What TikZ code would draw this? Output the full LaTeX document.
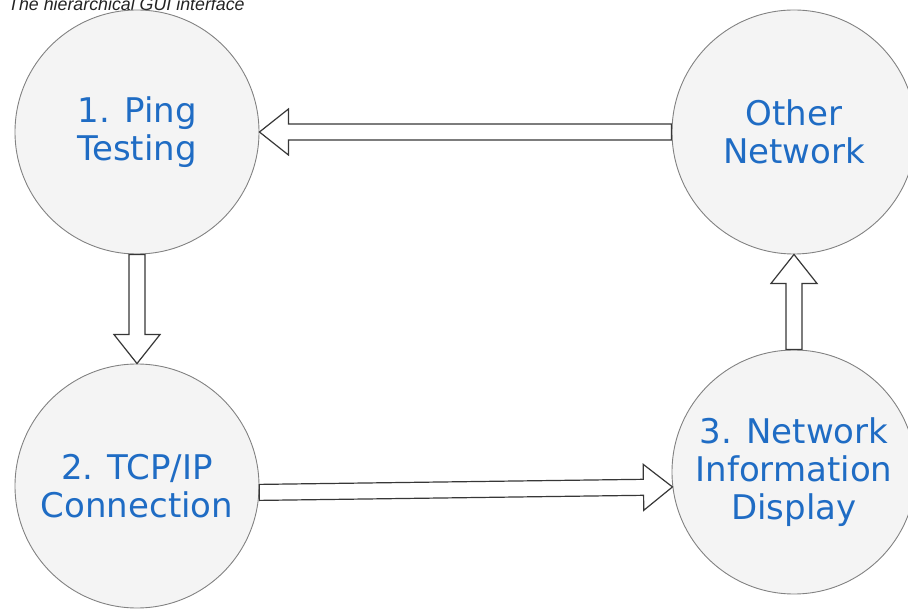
\documentclass[tikz,border=0pt]{standalone}
\usepackage{fontspec}
\setmainfont{DejaVu Sans}
\newfontfamily\titlefont{Liberation Sans}
\usetikzlibrary{calc,positioning}

\definecolor{stepblue}{RGB}{31,108,196}
\definecolor{circfill}{RGB}{244,244,244}
\definecolor{circline}{RGB}{130,130,130}
\definecolor{arrline}{RGB}{55,55,55}
\definecolor{titlegray}{RGB}{35,35,35}

% hollow block arrow from #1 to #2
\newcommand\hollowarrow[2]{%
  \coordinate (ha-s) at (#1);
  \coordinate (ha-e) at (#2);
  \coordinate (ha-n) at ($(ha-e)!29pt!(ha-s)$);
  \draw[blockarrow] ($(ha-s)!8pt!90:(ha-e)$) -- ($(ha-n)!8pt!-90:(ha-s)$)
    -- ($(ha-n)!23pt!-90:(ha-s)$) -- (ha-e) -- ($(ha-n)!23pt!90:(ha-s)$)
    -- ($(ha-n)!8pt!90:(ha-s)$) -- ($(ha-s)!8pt!-90:(ha-e)$) -- cycle;
}

\begin{document}
\begin{tikzpicture}[x=1pt, y=-1pt,
  stepnode/.style={circle, draw=circline, line width=0.9pt, fill=circfill,
    minimum size=244pt, inner sep=0pt, align=center, text=stepblue,
    font=\fontsize{34}{38}\selectfont},
  blockarrow/.style={draw=arrline, line width=1.2pt, fill=white, line join=miter}]

\useasboundingbox (0,0) rectangle (908,609);

% Title (cut at the top edge)
\node[anchor=base west, inner sep=0pt, text=titlegray,
  font=\titlefont\itshape\fontsize{17.8}{20}\selectfont] (title) at (8,11)
  {The hierarchical GUI interface};

% Steps
\node[stepnode] (ping) at (137,132) {1. Ping\\Testing};
\node[stepnode] (tcp) at (137,486) {2. TCP/IP\\Connection};
\node[stepnode] (info) at (794,472) {3. Network\\Information\\Display};
\node[stepnode] (other) at (794,132) {Other\\Network};

% Arrows
\hollowarrow{ping.south}{tcp.north}
\hollowarrow{tcp.-3}{info.187}
\hollowarrow{info.north}{other.south}
\hollowarrow{other.west}{ping.east}

\end{tikzpicture}
\end{document}
